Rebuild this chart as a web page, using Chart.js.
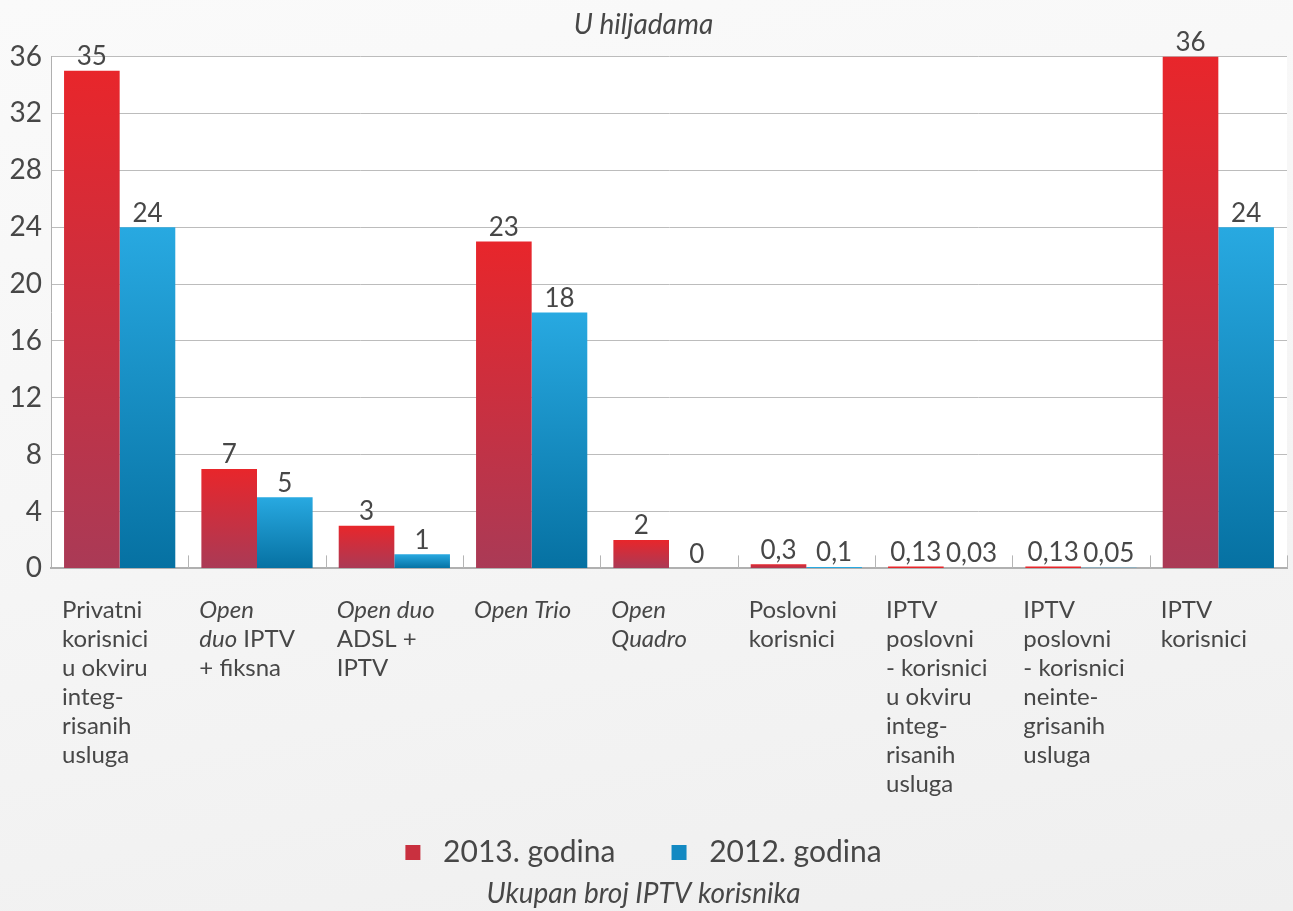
<!DOCTYPE html>
<html>
<head>
<meta charset="utf-8">
<script src="https://cdn.jsdelivr.net/npm/chart.js@4/dist/chart.umd.min.js"></script>
<style>
  html, body { margin: 0; padding: 0; }
  body {
    width: 1293px; height: 911px; overflow: hidden;
    background: linear-gradient(170deg, #fafafa 0%, #f6f6f6 45%, #efefef 100%);
  }
  #box { position: relative; width: 1293px; height: 911px; }
</style>
</head>
<body>
<div id="box"><canvas id="chart"></canvas></div>
<script>
// category labels, one array of lines per category; *text* = italic part
const categoryLines = [
  ['Privatni', 'korisnici', 'u okviru', 'integ-', 'risanih', 'usluga'],
  ['*Open*', '*duo* IPTV', '+ fiksna'],
  ['*Open duo*', 'ADSL +', 'IPTV'],
  ['*Open Trio*'],
  ['*Open*', '*Quadro*'],
  ['Poslovni', 'korisnici'],
  ['IPTV', 'poslovni', '- korisnici', 'u okviru', 'integ-', 'risanih', 'usluga'],
  ['IPTV', 'poslovni', '- korisnici', 'neinte-', 'grisanih', 'usluga'],
  ['IPTV', 'korisnici']
];
const categories = categoryLines.map(l => l.join(' ').replace(/\*/g, ''));

const values2013 = [35, 7, 3, 23, 2, 0.3, 0.13, 0.13, 36];
const values2012 = [24, 5, 1, 18, 0, 0.1, 0.03, 0.05, 24];

const seriesNames = ['2013. godina', '2012. godina'];
const yMin = 0, yMax = 36, yStep = 4;

const titleText = 'U hiljadama';
const captionText = 'Ukupan broj IPTV korisnika';

const FONT = 'Lato, "Open Sans", sans-serif';
const TEXT = '#474747';

// vertical gradient inside each bar, bright at the top
function barFill(topColor, bottomColor) {
  return function(ctx) {
    const chart = ctx.chart;
    if (ctx.type !== 'data' || !chart.chartArea) return topColor;
    const y = chart.scales.y;
    const y0 = y.getPixelForValue(ctx.raw);
    const y1 = y.getPixelForValue(0);
    if (y1 - y0 < 2) return topColor;
    const g = chart.ctx.createLinearGradient(0, y0, 0, y1);
    g.addColorStop(0, topColor);
    g.addColorStop(1, bottomColor);
    return g;
  };
}

function fmt(v) {
  return String(v).replace('.', ',');
}

// white plot area
const plotBg = {
  id: 'plotBg',
  beforeDraw(chart) {
    const {ctx, chartArea: a} = chart;
    ctx.save();
    ctx.fillStyle = '#ffffff';
    ctx.fillRect(a.left, a.top, a.right - a.left, a.bottom - a.top);
    ctx.restore();
  }
};

// value labels over the bars
const valueLabels = {
  id: 'valueLabels',
  afterDatasetsDraw(chart) {
    const ctx = chart.ctx;
    ctx.save();
    ctx.font = '26px ' + FONT;
    ctx.fillStyle = TEXT;
    ctx.textAlign = 'center';
    ctx.textBaseline = 'bottom';
    chart.data.datasets.forEach((ds, di) => {
      chart.getDatasetMeta(di).data.forEach((bar, i) => {
        ctx.fillText(fmt(ds.data[i]), bar.x, bar.y - 1);
      });
    });
    ctx.restore();
  }
};

// multi-line category labels with italic parts + small boundary ticks
const categoryAxis = {
  id: 'categoryAxis',
  afterDraw(chart) {
    const {ctx, scales: {x, y}} = chart;
    const half = (x.getPixelForValue(1) - x.getPixelForValue(0)) / 2;
    ctx.save();
    ctx.strokeStyle = '#b5b5b5';
    ctx.lineWidth = 1;
    for (let i = 1; i <= categories.length; i++) {
      const px = Math.round(x.getPixelForValue(i) - half) + 0.5;
      ctx.beginPath();
      ctx.moveTo(px, y.bottom);
      ctx.lineTo(px, y.bottom - 13);
      ctx.stroke();
    }
    ctx.fillStyle = TEXT;
    ctx.textAlign = 'left';
    ctx.textBaseline = 'middle';
    categoryLines.forEach((lines, i) => {
      const left = x.getPixelForValue(i) - half + 11;
      lines.forEach((line, j) => {
        const cy = y.bottom + 42 + j * 29;
        let cx = left;
        line.split('*').forEach((part, k) => {
          if (!part) return;
          ctx.font = (k % 2 ? 'italic ' : '') + '24px ' + FONT;
          ctx.fillText(part, cx, cy);
          cx += ctx.measureText(part).width;
        });
      });
    });
    ctx.restore();
  }
};

const legendColors = ['#c9303f', '#1389c2'];

new Chart(document.getElementById('chart'), {
  type: 'bar',
  data: {
    labels: categories,
    datasets: [
      {
        label: seriesNames[0],
        data: values2013,
        backgroundColor: barFill('#e8262b', '#aa3a56'),
        categoryPercentage: 0.81,
        barPercentage: 1.0
      },
      {
        label: seriesNames[1],
        data: values2012,
        backgroundColor: barFill('#28a9e1', '#0671a2'),
        categoryPercentage: 0.81,
        barPercentage: 1.0
      }
    ]
  },
  options: {
    responsive: true,
    maintainAspectRatio: false,
    animation: false,
    layout: { padding: { left: 0, right: 6, top: 0, bottom: 0 } },
    scales: {
      x: {
        ticks: { display: false },
        grid: { display: false },
        border: { display: true, color: '#b0b0b0', width: 2 },
        afterFit(s) { s.height = 259; }
      },
      y: {
        min: yMin,
        max: yMax,
        ticks: {
          stepSize: yStep,
          padding: 9,
          color: TEXT,
          font: { family: FONT, size: 28 }
        },
        grid: { color: '#bcbcbc', lineWidth: 1, drawTicks: false },
        border: { display: true, color: '#b0b0b0', width: 1 },
        afterFit(s) { s.width = 51; }
      }
    },
    plugins: {
      title: {
        display: true,
        text: titleText,
        color: TEXT,
        font: { family: FONT, size: 28, style: 'italic', weight: 'normal' },
        padding: { top: 8, bottom: 15 }
      },
      subtitle: {
        display: true,
        position: 'bottom',
        text: captionText,
        color: TEXT,
        font: { family: FONT, size: 28, style: 'italic', weight: 'normal' },
        padding: { top: 0, bottom: 0 }
      },
      legend: {
        position: 'bottom',
        labels: {
          boxWidth: 15,
          boxHeight: 15,
          padding: 10,
          color: TEXT,
          font: { family: FONT, size: 30 },
          // extra spaces only widen the gaps like in the original legend
          generateLabels: chart => chart.data.datasets.map((ds, i) => ({
            text: ' ' + ds.label + (i === 0 ? '      ' : ''),
            fillStyle: legendColors[i],
            strokeStyle: legendColors[i],
            lineWidth: 0,
            fontColor: TEXT,
            datasetIndex: i
          }))
        }
      },
      tooltip: { enabled: false }
    }
  },
  plugins: [plotBg, valueLabels, categoryAxis]
});
</script>
</body>
</html>
